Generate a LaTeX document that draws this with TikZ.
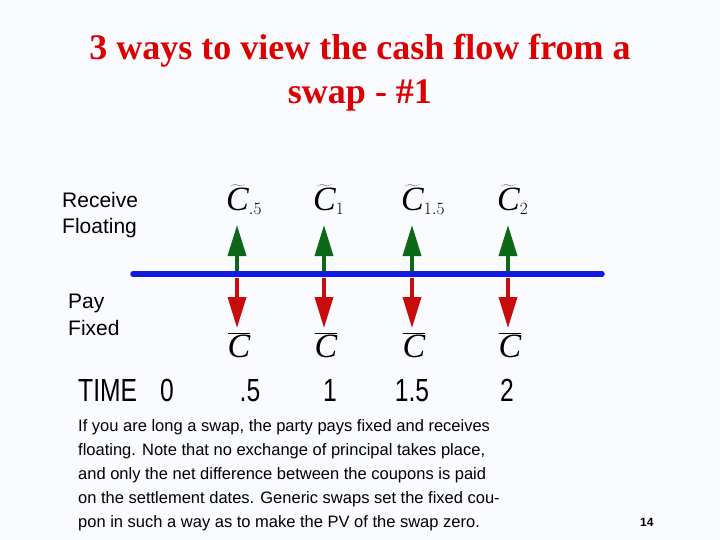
\documentclass[tikz,border=0pt]{standalone}
\usepackage{fontspec}
\setmainfont{Liberation Serif}
\setsansfont{Liberation Sans}
\newfontfamily\narrowsans[FakeStretch=0.77]{Liberation Sans}
\usetikzlibrary{arrows.meta}

\definecolor{slidebg}{RGB}{250,251,254}
\definecolor{titlered}{RGB}{222,0,0}
\definecolor{upgreen}{RGB}{12,104,24}
\definecolor{downred}{RGB}{200,12,12}
\definecolor{lineblue}{RGB}{16,28,224}

\newcommand{\cpnC}{\hbox{\itshape C}}

\begin{document}
\begin{tikzpicture}[
  x=1pt,y=-1pt,
  ttl/.style={text=titlered,font=\bfseries\fontsize{36}{40}\selectfont,inner sep=0pt,anchor=base},
  side/.style={font=\sffamily\fontsize{21}{26.5}\selectfont,align=left,anchor=north west,inner sep=0pt},
  timeline/.style={lineblue,line width=5.5pt,line cap=round},
  upflow/.style={upgreen,line width=3.6pt,-{Triangle[width=18pt,length=31pt]}},
  downflow/.style={downred,line width=3.6pt,-{Triangle[width=18pt,length=31pt]}},
  cpn/.style={font=\fontsize{34}{34}\selectfont,inner sep=0pt},
  tick/.style={font=\narrowsans\fontsize{32}{32}\selectfont,inner sep=0pt,anchor=base}
]
\fill[slidebg] (0,0) rectangle (720,540);
\useasboundingbox (0,0) rectangle (720,540);

% title
\node[ttl] (title1) at (360,60) {3 ways to view the cash flow from a};
\node[ttl] (title2) at (360,104) {swap - \#1};

% legs
\node[side] (recv) at (62,192) {Receive\\Floating};
\node[side] (pay) at (68,294) {Pay\\Fixed};

% cash flows
\coordinate (tl0) at (133,274);
\coordinate (tl1) at (602,274);
\foreach \x/\n/\s in {237/a/.5,324/b/1,412/c/1.5,508/d/2} {
  \coordinate (base\n) at (\x,274);
  \coordinate (up\n) at (\x,225);
  \coordinate (dn\n) at (\x,328);
  \draw[upflow] (base\n) -- (up\n);
  \draw[downflow] ([yshift=-4pt]base\n) -- (dn\n);
  \node[cpn,anchor=base west] (flt\n) at (\x-11,211) {$\widetilde{\cpnC}_{\scriptscriptstyle\s}$};
  \node[cpn,anchor=base] (fix\n) at (\x+2,357) {$\overline{\cpnC}$};
}
\draw[timeline] (tl0) -- (tl1);

% time axis
\node[tick,anchor=base west] (time) at (78,401) {TIME};
\foreach \x/\t in {167/0,250/.5,330/1,412/1.5,507/2} {
  \node[tick] (t\x) at (\x,401) {\t};
}

% note
\node[font=\sffamily\fontsize{16.5}{24}\selectfont,align=left,anchor=north west,inner sep=0pt] (note) at (78,419)
  {If you are long a swap, the party pays fixed and receives\\
   floating. Note that no exchange of principal takes place,\\
   and only the net difference between the coupons is paid\\
   on the settlement dates. Generic swaps set the fixed cou-\\
   pon in such a way as to make the PV of the swap zero.};

\node[font=\sffamily\bfseries\fontsize{12}{12}\selectfont,anchor=base west,inner sep=0pt] (page) at (640,526) {14};
\end{tikzpicture}
\end{document}
